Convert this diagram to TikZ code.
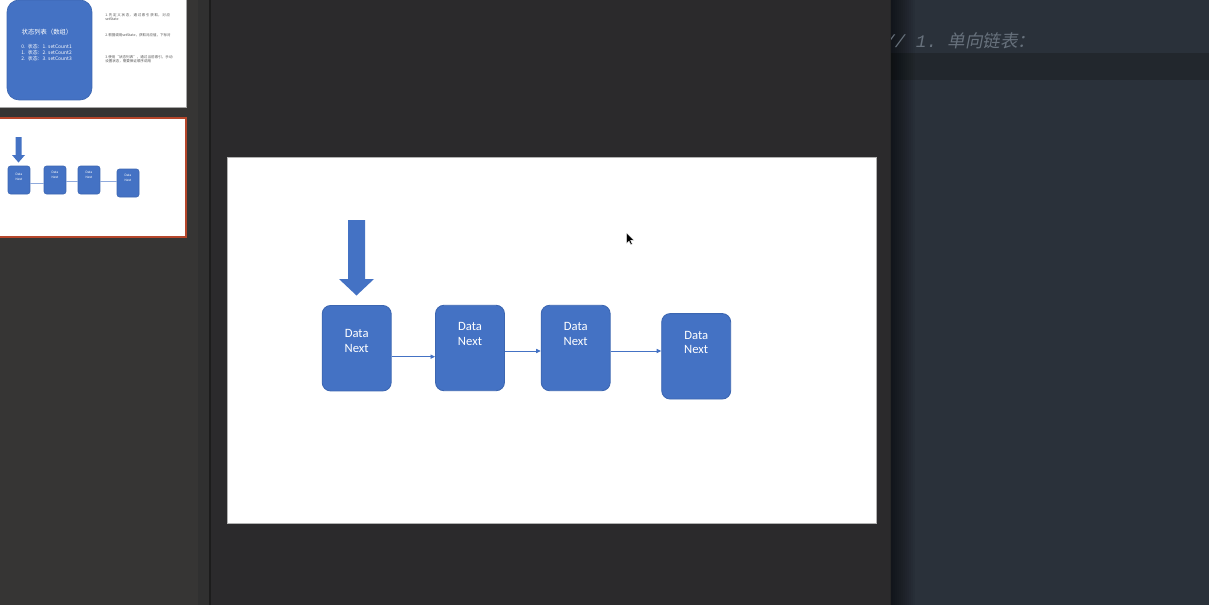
\documentclass[tikz,border=0pt]{standalone}
\usepackage{fontspec}
\setmainfont{Carlito}
\setmonofont{Liberation Mono}
\newfontfamily\cjk{Noto Sans CJK SC}
\newfontfamily\cjksl[FakeSlant=0.2]{Noto Sans CJK SC}
\XeTeXlinebreaklocale "zh"
\XeTeXlinebreakskip=0pt plus 1pt
\usetikzlibrary{arrows.meta,calc}
\definecolor{leftbg}{HTML}{363534}
\definecolor{stripbg}{HTML}{303030}
\definecolor{mainbg}{HTML}{2B2A2C}
\definecolor{edgeln}{HTML}{1C1C1C}
\definecolor{edbg}{HTML}{2A313A}
\definecolor{edline}{HTML}{22272D}
\definecolor{cmt}{HTML}{67717C}
\definecolor{office}{HTML}{4472C4}
\definecolor{officedk}{HTML}{3C66B1}
\definecolor{thumbred}{HTML}{B5462B}
\definecolor{tiny}{HTML}{555555}
\tikzset{
  nodebox/.style={rounded corners=0.17cm, draw=officedk, fill=office, line width=0.5pt,
    minimum width=1.38cm, minimum height=1.71cm, inner sep=0pt},
  nlab/.style={font=\fontsize{7.2}{8.3}\selectfont, text=white, align=center, inner sep=0pt},
  link/.style={-{Triangle[length=2.6pt,width=2.4pt]}, line width=0.45pt, draw=office},
  tbox/.style={rounded corners=0.05cm, draw=officedk, fill=office, line width=0.3pt,
    minimum width=0.44cm, minimum height=0.56cm, inner sep=0pt},
  tlab/.style={font=\fontsize{2}{2.5}\selectfont, text=white, align=center, inner sep=0pt},
  tlink/.style={line width=0.3pt, draw=office!60},
  stcard/.style={rounded corners=0.24cm, fill=office, draw=officedk, line width=0.4pt,
    minimum width=1.7cm, minimum height=2cm, inner sep=0pt},
  note/.style={font=\cjk\fontsize{2}{2.6}\selectfont, text=tiny, text width=1.35cm, align=left,
    inner sep=0pt, anchor=north west},
}
\begin{document}
\begin{tikzpicture}[x=0.02cm,y=-0.02cm]
  \useasboundingbox (0,0) rectangle (1209,605);
  % window panes
  \fill[leftbg] (0,0) rectangle (198,605);
  \fill[stripbg] (198,0) rectangle (210,605);
  \fill[mainbg] (210,0) rectangle (890,605);
  \draw[edgeln,line width=0.8pt] (210,0) -- (210,605);
  \fill[edbg] (890,0) rectangle (1209,605);
  \fill[edline] (890,53) rectangle (1209,80);
  \foreach \s in {0,...,11}
    \fill[black,opacity=0.05] (891,0) rectangle (893+2*\s,605);
  \draw[black!85,line width=1pt] (890.5,0) -- (890.5,605);
  \begin{scope}
    \clip (891,0) rectangle (1209,605);
    \node[anchor=base west,inner sep=0pt,text=cmt] (cmtline) at (884,47)
      {\fontsize{10}{12}\selectfont\ttfamily\itshape // 1. {\cjksl 单向链表：}};
  \end{scope}

  % thumbnail 1
  \fill[white] (0,0) rectangle (186,107);
  \draw[gray!70,line width=0.6pt] (0,107.5) -- (186.5,107.5) -- (186.5,0);
  \node[stcard] (states) at (49.5,50) {};
  \node[font=\cjk\fontsize{3.6}{4}\selectfont,text=white] (sttitle) at (47,32) {状态列表（数组）};
  \foreach \k/\yy in {0/47,1/53,2/59} {
    \pgfmathtruncatemacro{\nn}{\k+1}
    \node[anchor=west,inner sep=0pt,font=\cjk\fontsize{2.8}{3}\selectfont,text=white] (st\k) at (21,\yy)
      {\k.\enspace 状态：\nn. setCount\nn};
  }
  \node[note] (note1) at (105,13) {1.先定义状态，通过索引获取，对应setState};
  \node[note] (note2) at (105,33) {2.根据调用setState，获取对应值，下标对};
  \node[note] (note3) at (105,55) {3.使用“状态列表”，通过当前索引，手动设置状态，需要保证顺序调用};

  % thumbnail 2
  \draw[thumbred,line width=1.3pt,fill=white] (-2,118) rectangle (186,237);
  \fill[office] (15.5,137) -- (21.5,137) -- (21.5,155) -- (25,155) -- (18.5,162.5) -- (12,155) -- (15.5,155) -- cycle;
  \node[tbox] (t1) at (19,180) {};
  \node[tbox] (t2) at (55,180) {};
  \node[tbox] (t3) at (89,180) {};
  \node[tbox] (t4) at (128,183) {};
  \foreach \t/\dy in {t1/-3,t2/-5,t3/-5,t4/-5}
    \node[tlab] at ($(\t.center)+(0,\dy)$) {Data\\Next};
  \draw[tlink] ($(t1.east)+(0,3)$) -- ($(t2.west)+(0,3)$);
  \draw[tlink] ($(t2.east)+(0,1)$) -- ($(t3.west)+(0,1)$);
  \draw[tlink] ($(t3.east)+(0,1)$) -- ($(t4.west)+(0,-2)$);

  % slide
  \draw[fill=white,draw=black!30,line width=0.4pt] (227,157) rectangle (876,523);
  \fill[office] (348,220) -- (365,220) -- (365,279) -- (374,279) -- (356.5,295.5) -- (339,279) -- (348,279) -- cycle;
  \node[nodebox] (n1) at (356.7,348.2) {};
  \node[nodebox] (n2) at (470,348) {};
  \node[nodebox] (n3) at (575.7,348) {};
  \node[nodebox] (n4) at (696.2,356.3) {};
  \node[nlab] (l1) at (356.7,341) {Data\\Next};
  \node[nlab] (l2) at (470,334) {Data\\Next};
  \node[nlab] (l3) at (575.7,334.2) {Data\\Next};
  \node[nlab] (l4) at (696.2,342.5) {Data\\Next};
  \draw[link] ($(n1.east)+(0,8.5)$) -- ($(n2.west)+(0,8.7)$);
  \draw[link] ($(n2.east)+(0,3)$) -- ($(n3.west)+(0,3)$);
  \draw[link] ($(n3.east)+(0,3)$) -- ($(n4.west)+(0,-5.3)$);

  % mouse pointer
  \fill[black,draw=white,line width=0.2pt] (626.5,233) -- (626.5,243.5) -- (629,241) -- (630.8,244.8)
    -- (632.3,244.1) -- (630.6,240.4) -- (634,240.4) -- cycle;
\end{tikzpicture}
\end{document}
